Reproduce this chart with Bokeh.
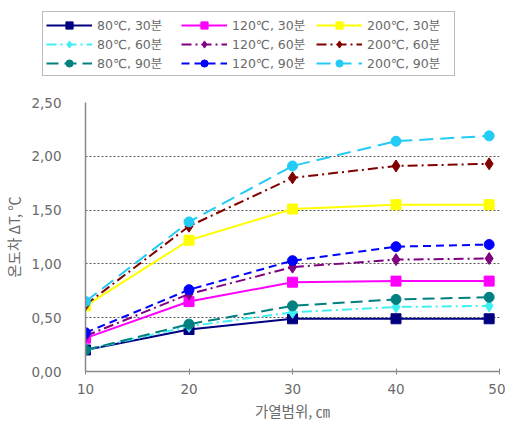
from bokeh.plotting import figure
from bokeh.layouts import column, row
from bokeh.models import Legend, LegendItem, FixedTicker, Range1d
from bokeh.embed import file_html
from bokeh.resources import INLINE

heating_range = [10, 20, 30, 40, 49]
x_ticks = [10, 20, 30, 40, 50]
y_ticks = [0.0, 0.5, 1.0, 1.5, 2.0, 2.5]
y_tick_labels = ["0,00", "0,50", "1,00", "1,50", "2,00", "2,50"]

labels = ["80℃, 30분", "80℃, 60분", "80℃, 90분",
          "120℃, 30분", "120℃, 60분", "120℃, 90분",
          "200℃, 30분", "200℃, 60분", "200℃, 90분"]
t80_30 = [0.20, 0.39, 0.49, 0.49, 0.49]
t80_60 = [0.20, 0.42, 0.55, 0.60, 0.61]
t80_90 = [0.20, 0.44, 0.61, 0.67, 0.69]
t120_30 = [0.31, 0.65, 0.83, 0.84, 0.84]
t120_60 = [0.33, 0.72, 0.97, 1.04, 1.05]
t120_90 = [0.36, 0.76, 1.03, 1.16, 1.18]
t200_30 = [0.61, 1.22, 1.51, 1.55, 1.55]
t200_60 = [0.62, 1.35, 1.80, 1.91, 1.93]
t200_90 = [0.65, 1.39, 1.91, 2.14, 2.19]
series = [t80_30, t80_60, t80_90, t120_30, t120_60, t120_90, t200_30, t200_60, t200_90]

colors = ["#000080", "#40F0F0", "#008080", "#FF00FF", "#800080", "#0000FF",
          "#FFFF00", "#800000", "#22CCF5"]
markers = ["square", "diamond", "circle"] * 3
dashes = ["solid", "10 4 2 4", "12 6", "solid", "10 4 2 4", "8 5", "solid", "10 4 2 4", "14 7"]
msizes = [10, 12, 10] * 3

FONT = "DejaVu Sans, Noto Sans CJK KR"
KFONT = "Noto Sans CJK KR"
GRAY = "#6a6a6a"

# main chart
p = figure(width=505, height=337, output_backend="svg", toolbar_location=None,
           x_range=Range1d(10, 50), y_range=Range1d(0, 2.5),
           min_border_left=78, min_border_right=6, min_border_top=16, min_border_bottom=0)
p.outline_line_color = None
p.xgrid.grid_line_color = None
p.ygrid.grid_line_color = "#555555"
p.ygrid.grid_line_dash = "2 2"
p.ygrid.grid_line_width = 1
p.ygrid.ticker = FixedTicker(ticks=y_ticks)

p.xaxis.ticker = FixedTicker(ticks=x_ticks)
p.yaxis.ticker = FixedTicker(ticks=y_ticks)
p.yaxis.major_label_overrides = {t: l for t, l in zip(y_ticks, y_tick_labels)}
for ax in (p.xaxis, p.yaxis):
    ax.axis_line_color = "#8a8a8a"
    ax.axis_line_width = 1.5
    ax.major_label_text_font = FONT
    ax.major_label_text_font_size = "13.5px"
    ax.major_label_text_color = GRAY
    ax.axis_label_text_font = KFONT
    ax.axis_label_text_font_size = "14.5px"
    ax.axis_label_text_color = GRAY
    ax.axis_label_text_font_style = "normal"
    ax.minor_tick_line_color = None
p.yaxis.major_tick_line_color = None
p.yaxis.major_label_standoff = 18
p.xaxis.major_tick_line_color = "#8a8a8a"
p.xaxis.major_tick_in = 3
p.xaxis.major_tick_out = 3
p.xaxis.major_label_standoff = 9
p.xaxis.axis_label = "가열범위, ㎝"
p.yaxis.axis_label = "온도차 ΔT, ℃"
p.xaxis.axis_label_standoff = 3
p.yaxis.axis_label_standoff = 4

for ys, c, m, d, ms in zip(series, colors, markers, dashes, msizes):
    p.line(heating_range, ys, line_color=c, line_width=2, line_dash=d)
    p.scatter(heating_range, ys, marker=m, size=ms, fill_color=c, line_color=c)

# legend strip above the chart (series drawn off-view; only the legend shows)
lg = figure(width=505, height=86, output_backend="svg", toolbar_location=None,
            x_axis_type=None, y_axis_type=None,
            min_border_left=42, min_border_top=11, min_border_right=0, min_border_bottom=0,
            x_range=Range1d(-2, -1), y_range=Range1d(-2, -1))
lg.outline_line_color = None
lg.grid.grid_line_color = None
items = []
for lab, ys, c, m, d, ms in zip(labels, series, colors, markers, dashes, msizes):
    lr = lg.line(heating_range, ys, line_color=c, line_width=2, line_dash=d)
    sr = lg.scatter(heating_range, ys, marker=m, size=ms, fill_color=c, line_color=c)
    items.append(LegendItem(label=lab, renderers=[lr, sr]))

legend = Legend(items=items, ncols=3, orientation="vertical",
                location="top_left",
                label_text_font=FONT, label_text_font_size="12.5px", label_text_color=GRAY,
                glyph_width=46, glyph_height=18, label_width=84, label_height=18,
                label_standoff=5, spacing=0,
                padding=3, margin=0,
                border_line_color="#777777", border_line_width=1.5,
                background_fill_alpha=1)
lg.add_layout(legend, "center")

layout = column(row(lg), p, spacing=0)
open("out.html", "w").write(file_html(layout, INLINE))
